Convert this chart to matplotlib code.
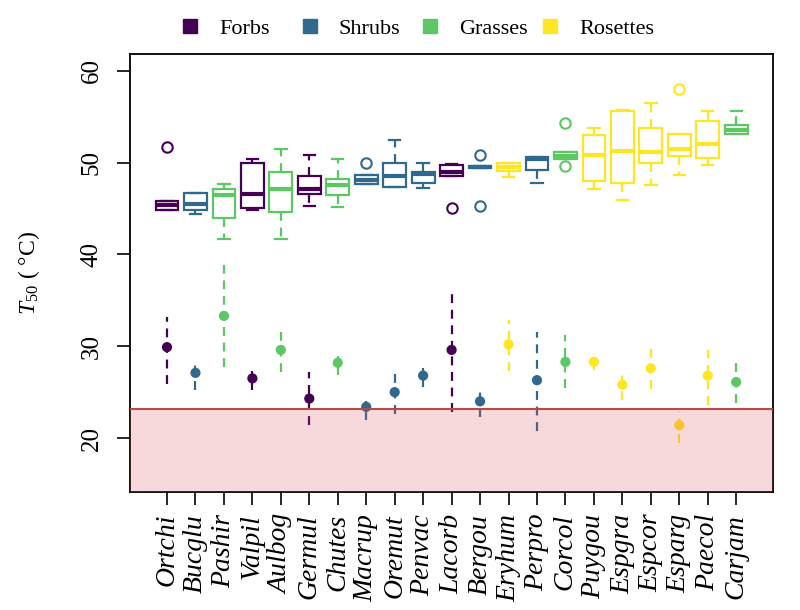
import numpy as np
import matplotlib.pyplot as plt
from matplotlib.lines import Line2D

plt.rcParams['font.family'] = ['Liberation Serif', 'DejaVu Serif']
plt.rcParams['mathtext.fontset'] = 'custom'
plt.rcParams['mathtext.rm'] = 'Liberation Serif'
plt.rcParams['mathtext.it'] = 'Liberation Serif:italic'
plt.rcParams['mathtext.default'] = 'it'

species = ['Ortchi', 'Bucglu', 'Pashir', 'Valpil', 'Aulbog', 'Germul', 'Chutes',
           'Macrup', 'Oremut', 'Penvac', 'Lacorb', 'Bergou', 'Eryhum', 'Perpro',
           'Corcol', 'Puygou', 'Espgra', 'Espcor', 'Esparg', 'Paecol', 'Carjam']
group = ['Forbs', 'Shrubs', 'Grasses', 'Forbs', 'Grasses', 'Forbs', 'Grasses',
         'Shrubs', 'Shrubs', 'Shrubs', 'Forbs', 'Shrubs', 'Rosettes', 'Shrubs',
         'Grasses', 'Rosettes', 'Rosettes', 'Rosettes', 'Rosettes', 'Rosettes', 'Grasses']
group_names = ['Forbs', 'Shrubs', 'Grasses', 'Rosettes']
group_colors = ['#440154', '#31688E', '#5DC863', '#FDE725']

# T50 boxplot statistics
box_whislo = [44.8, 44.4, 41.7, 44.8, 41.7, 45.3, 45.2, 47.7, 47.3, 47.2, 48.5,
              49.4, 48.4, 47.8, 50.4, 47.1, 45.9, 47.6, 48.6, 49.7, 53.1]
box_q1 = [44.85, 44.8, 44.0, 45.1, 44.6, 46.6, 46.5, 47.7, 47.3, 47.8, 48.5,
          49.4, 49.1, 49.2, 50.4, 48.0, 47.8, 50.0, 50.7, 50.5, 53.1]
box_med = [45.35, 45.5, 46.5, 46.6, 47.1, 47.1, 47.6, 48.1, 48.5, 48.8, 49.0,
           49.5, 49.5, 50.4, 50.7, 50.8, 51.3, 51.2, 51.5, 52.0, 53.5]
box_q3 = [45.8, 46.7, 47.1, 49.9, 49.0, 48.5, 48.2, 48.6, 49.9, 49.0, 49.7,
          49.6, 49.9, 50.6, 51.1, 53.0, 55.6, 53.8, 53.1, 54.5, 54.1]
box_whishi = [45.8, 46.7, 47.7, 50.4, 51.5, 50.8, 50.4, 48.6, 52.5, 50.0, 49.8,
              49.6, 49.9, 50.6, 51.2, 53.8, 55.7, 56.5, 53.1, 55.6, 55.6]
box_fliers = [[51.7], [], [], [], [], [], [], [49.9], [], [], [45.0],
              [50.85, 45.3], [], [], [54.3, 49.6], [], [], [], [58.0], [], []]

# lower estimates with intervals
est_mid = [29.9, 27.1, 33.3, 26.5, 29.6, 24.3, 28.2, 23.4, 25.0, 26.8, 29.6,
           24.0, 30.2, 26.3, 28.3, 28.3, 25.8, 27.6, 21.4, 26.8, 26.1]
est_lo = [25.9, 25.2, 27.7, 25.2, 27.2, 21.4, 26.9, 22.0, 22.6, 25.6, 22.8,
          22.3, 27.3, 20.8, 25.4, 27.4, 24.1, 25.3, 19.5, 23.6, 23.8]
est_hi = [33.2, 28.6, 38.8, 27.3, 31.8, 27.2, 28.9, 24.0, 27.3, 27.6, 36.3,
          25.7, 32.9, 31.6, 31.2, 29.1, 27.5, 30.0, 23.0, 29.6, 28.3]

threshold = 23.2

colors = [group_colors[group_names.index(g)] for g in group]
pos = np.arange(1, len(species) + 1)

fig = plt.figure(figsize=(8, 6.1), dpi=100)
ax = fig.add_axes([0.1625, 0.193, 0.804, 0.719])

stats = []
for i, sp in enumerate(species):
    stats.append(dict(label=sp, whislo=box_whislo[i], q1=box_q1[i], med=box_med[i],
                      q3=box_q3[i], whishi=box_whishi[i], fliers=box_fliers[i]))

bp = ax.bxp(stats, positions=pos, widths=0.8, capwidths=0.4, patch_artist=True,
            boxprops=dict(facecolor='white', linewidth=1.6),
            medianprops=dict(linewidth=3.0, solid_capstyle='butt'),
            whiskerprops=dict(linestyle=(0, (4, 3)), linewidth=1.6),
            capprops=dict(linewidth=1.6),
            flierprops=dict(marker='o', markersize=7.5, markerfacecolor='none',
                            markeredgewidth=1.5))
for i, c in enumerate(colors):
    bp['boxes'][i].set_edgecolor(c)
    bp['medians'][i].set_color(c)
    for k in (2 * i, 2 * i + 1):
        bp['whiskers'][k].set_color(c)
        bp['caps'][k].set_color(c)
    bp['fliers'][i].set_markeredgecolor(c)

for i, c in enumerate(colors):
    ax.plot([pos[i], pos[i]], [est_lo[i], est_hi[i]], color=c, lw=1.6,
            linestyle=(0, (4, 3)), zorder=3)
ax.scatter(pos, est_mid, s=40, c=colors, zorder=4)

ax.axhspan(0, threshold, facecolor='#D9434F', alpha=0.2, lw=0, zorder=5)
ax.axhline(threshold, color='#B84A45', lw=1.5, zorder=6)

ax.set_xlim(-0.3, 22.3)
ax.set_ylim(14.1, 61.85)
ax.set_xticks(pos)
ax.set_xticklabels(species, rotation=90, fontstyle='italic', fontsize=20)
ax.set_yticks([20, 30, 40, 50, 60])
ax.set_yticklabels(['20', '30', '40', '50', '60'], rotation=90, va='center', fontsize=18)
ax.tick_params(length=9.5, width=1.2)
ax.tick_params(axis='y', pad=10)
ax.tick_params(axis='x', pad=6)
for s in ax.spines.values():
    s.set_linewidth(1.3)
ax.set_ylabel(r'$T_{50}$ ( °C)', fontsize=17, labelpad=28)

# legend entries evenly spaced like R's horizontal legend
for i, (name, c) in enumerate(zip(group_names, group_colors)):
    h = Line2D([], [], marker='s', linestyle='none', markersize=10,
               markerfacecolor=c, markeredgecolor=c)
    fig.legend([h], [name], loc='upper left', bbox_to_anchor=(0.2125 + i * 0.15, 0.985),
               frameon=False, fontsize=16, handlelength=1.0, handletextpad=0.8,
               borderaxespad=0.0)

fig.savefig('out.png', dpi=100)
